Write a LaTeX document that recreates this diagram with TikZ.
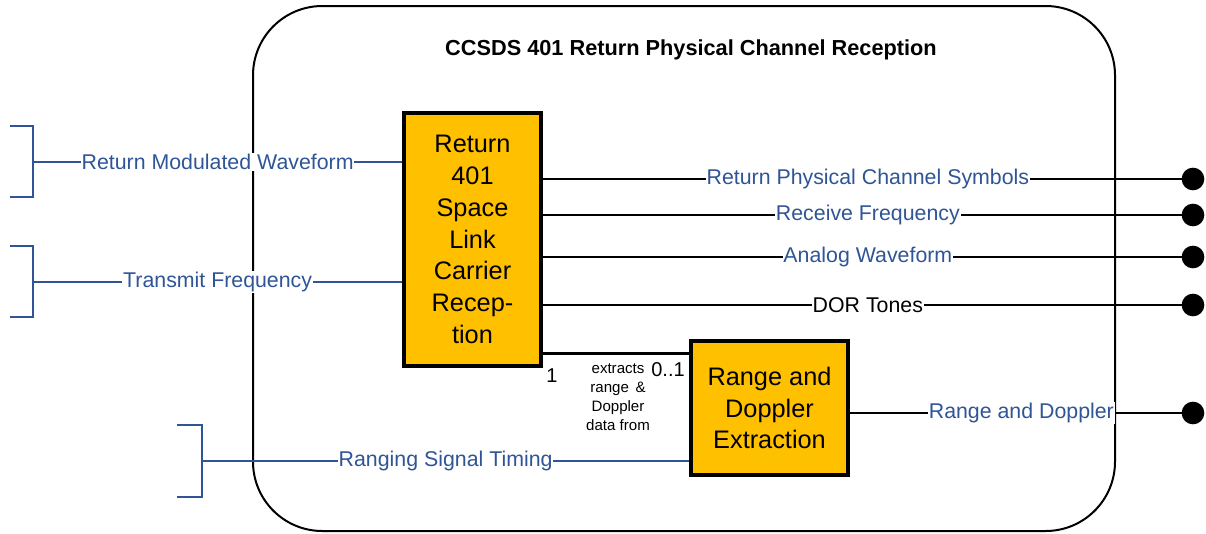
\documentclass[tikz,border=0pt]{standalone}
\usepackage{fontspec}
\setmainfont{Liberation Sans}
\usetikzlibrary{calc}
\definecolor{lblblue}{RGB}{47,85,151}
\definecolor{boxfill}{RGB}{255,192,0}
\begin{document}
\begin{tikzpicture}[x=0.75pt,y=-0.75pt,
  outerbox/.style={draw=black,line width=1.5pt,rounded corners=52pt},
  funcbox/.style={draw=black,line width=2.6pt,fill=boxfill,inner sep=0pt,align=center,
    font=\fontsize{19}{23.9}\selectfont},
  blueline/.style={draw=lblblue,line width=1pt},
  blackline/.style={draw=black,line width=1.1pt},
  assoc/.style={draw=black,line width=2.3pt},
  lbl/.style={fill=white,inner sep=0.6pt,text=lblblue,font=\fontsize{16}{19}\selectfont},
  lblk/.style={lbl,text=black},
  dotend/.style={circle,fill=black,draw=none,minimum size=17pt,inner sep=0pt},
  smalltxt/.style={font=\fontsize{11.3}{14.2}\selectfont,align=center,inner sep=0pt},
  multtxt/.style={font=\fontsize{15}{18}\selectfont,inner sep=0pt}
]
\useasboundingbox (0,0) rectangle (1206,533);
% outer boundary
\draw[outerbox] (253,6) rectangle (1115,531);
\node[font=\bfseries\fontsize{16.3}{19}\selectfont] (title) at (691,50) {CCSDS 401 Return Physical Channel Reception};
% functional boxes
\node[funcbox,minimum width=102.75pt,minimum height=189.75pt] (b1) at (472.5,239.5)
  {Return\\401\\Space\\Link\\Carrier\\Recep-\\tion};
\node[funcbox,minimum width=117.75pt,minimum height=100.5pt] (b2) at (769.5,408)
  {Range and\\Doppler\\Extraction};
% left brackets
\coordinate (br1) at (33,162);
\coordinate (br2) at (33,282);
\coordinate (br3) at (202,461);
\draw[blueline] (10,126) -- (33,126) -- (33,197) -- (10,197);
\draw[blueline] (10,246) -- (33,246) -- (33,317) -- (10,317);
\draw[blueline] (177,425) -- (202,425) -- (202,497) -- (177,497);
% inputs
\draw[blueline] (br1) -- (br1 -| b1.west) node[midway,lbl] {Return Modulated Waveform};
\draw[blueline] (br2) -- (br2 -| b1.west) node[midway,lbl] {Transmit Frequency};
\draw[blueline] (br3) -- (br3 -| b2.west) node[midway,lbl] {Ranging Signal Timing};
% output end points
\node[dotend] (d1) at (1193,179) {};
\node[dotend] (d2) at (1193,215) {};
\node[dotend] (d3) at (1193,257) {};
\node[dotend] (d4) at (1193,305) {};
\node[dotend] (d5) at (1193,413) {};
% outputs
\draw[blackline] (d1 -| b1.east) -- (d1.center) node[midway,lbl] {Return Physical Channel Symbols};
\draw[blackline] (d2 -| b1.east) -- (d2.center) node[midway,lbl] {Receive Frequency};
\draw[blackline] (d3 -| b1.east) -- (d3.center) node[midway,lbl] {Analog Waveform};
\draw[blackline] (d4 -| b1.east) -- (d4.center) node[midway,lblk] {DOR Tones};
\draw[blackline] (d5 -| b2.east) -- (d5.center) node[midway,lbl] {Range and Doppler};
% association
\coordinate (as1) at ($(b1.south east)+(0,-14)$);
\draw[assoc] (as1) -- (as1 -| b2.west);
\node[multtxt] (m1) at (552,376) {1};
\node[multtxt] (m2) at (668,370) {0..1};
\node[smalltxt] (roleTxt) at (618,397) {extracts\\range \,\&\\Doppler\\data from};
\end{tikzpicture}
\end{document}
